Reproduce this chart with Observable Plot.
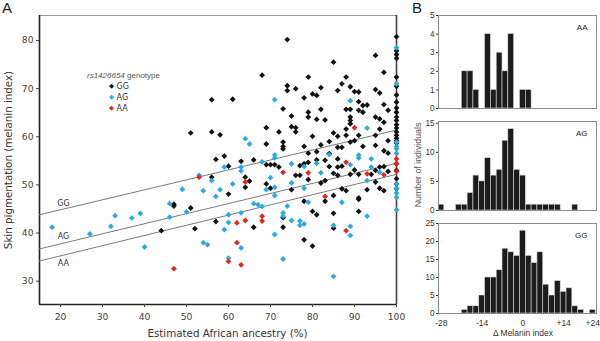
<!DOCTYPE html>
<html>
<head>
<meta charset="utf-8">
<script src="https://cdn.jsdelivr.net/npm/d3@7"></script>
<script src="https://cdn.jsdelivr.net/npm/@observablehq/plot@0.6"></script>
<style>
  html, body { margin: 0; padding: 0; background: #fff; }
  #root { position: relative; width: 600px; height: 341px; overflow: hidden; background: #fff; }
  .abs { position: absolute; }
  .t { position: absolute; white-space: nowrap; line-height: 1; }
</style>
</head>
<body>
<div id="root">
  <div id="panelA" class="abs" style="left:0;top:0"></div>
  <div id="histAA" class="abs" style="left:420px;top:0"></div>
  <div id="histAG" class="abs" style="left:420px;top:112px"></div>
  <div id="histGG" class="abs" style="left:420px;top:216px"></div>
</div>
<script>
// ---------------- data ----------------
// Panel A: [estimated African ancestry %, melanin index]
const gg = [
[44,40.5],[47,46.0],[47,45.6],[51,45.2],[51,60.8],[52,40.9],[56,67.7],[56,61.0],[56,51.6],[57,55.3],[57,42.4],[58,60.4],[59,56.0],[60,53.9],[60,48.1],[61,67.8],[63,54.9],[64,51.6],[64,49.5],[65,50.8],[66,55.2],[66,41.2],[68,72.8],[69,61.9],[69,58.5],[69,50.2],[69,54.2],[70,54.2],[70,49.3],[71,54.2],[72,61.0],[72,53.7],[73,65.8],[73,58.9],[73,58.0],[73,57.5],[73,43.2],[73,41.2],[74,80.2],[74,70.6],[74,69.6],[75,64.3],[75,62.1],[75,49.0],[76,70.0],[76,61.9],[76,61.0],[76,52.0],[77,52.0],[77,54.0],[78,68.1],[78,58.0],[78,54.4],[78,46.6],[78,38.6],[79,72.4],[79,65.1],[79,64.1],[79,56.6],[79,54.7],[79,51.1],[80,68.9],[80,60.1],[80,44.5],[80,37.3],[81,68.6],[81,63.6],[81,56.9],[81,55.2],[81,43.8],[82,70.2],[82,65.7],[82,58.3],[82,50.4],[83,63.5],[83,55.1],[83,50.9],[83,46.6],[84,59.0],[84,56.5],[84,53.8],[85,75.5],[85,60.8],[85,52.4],[85,47.8],[85,44.1],[85,41.0],[86,69.6],[86,60.1],[86,57.8],[86,55.4],[86,53.7],[86,52.0],[87,71.0],[87,57.8],[87,53.9],[87,49.2],[88,72.4],[88,65.7],[88,61.6],[88,60.3],[88,48.8],[89,70.4],[89,65.7],[89,64.1],[89,63.4],[89,62.7],[89,58.9],[89,52.2],[90,69.4],[90,59.2],[90,53.1],[91,69.3],[91,67.3],[91,65.5],[91,60.3],[91,52.2],[91,47.3],[91,47.0],[91,44.5],[92,66.5],[92,65.1],[92,58.0],[93,66.6],[93,49.0],[94,52.2],[95,76.9],[95,69.8],[95,64.1],[95,60.3],[95,58.2],[95,53.0],[95,50.6],[96,69.1],[96,63.7],[96,61.6],[96,53.7],[96,49.3],[97,73.4],[97,66.7],[97,63.0],[97,57.1],[97,53.8],[97,48.8],[98,65.5],[98,59.2],[98,56.6],[98,52.8],
[100,80.8],[100,77.9],[100,77.1],[100,76.3],[100,72.4],[100,70.5],[100,68.7],[100,67.2],[100,66.0],[100,65.1],[100,64.1],[100,63.4],[100,62.5],[100,61.8],[100,61.0],[100,60.3],[100,59.7],[100,59.2],[100,58.7],[100,54.4],[100,53.0],[100,51.3],[100,50.2],[100,49.2]
];
const ag = [
[18,41.2],[27,39.8],[32,41.4],[33,43.6],[37,43.1],[39,44.1],[40,37.1],[46,46.1],[46,43.3],[49,49.1],[50,44.4],[53,52.0],[54,48.8],[54,38.0],[55,37.6],[56,50.9],[57,47.6],[58,49.0],[59,53.7],[59,40.7],[60,43.8],[60,42.2],[60,34.8],[61,50.2],[63,53.7],[63,52.9],[63,44.2],[63,36.9],[64,59.6],[65,58.5],[66,46.1],[67,45.9],[68,45.5],[68,54.8],[69,49.0],[70,51.5],[71,67.7],[71,56.2],[71,55.6],[71,49.5],[71,47.8],[71,39.7],[73,44.2],[73,43.5],[73,34.6],[74,45.6],[75,54.4],[75,50.4],[75,42.6],[77,42.5],[77,41.6],[78,41.9],[78,49.3],[78,53.8],[79,46.4],[81,54.5],[82,52.5],[84,56.3],[85,41.6],[85,31.0],[87,46.4],[89,67.5],[89,54.2],[89,41.4],[89,39.5],[91,56.2],[91,55.6],[93,61.8],[93,50.9],[93,43.5],[94,55.4],[94,53.7],[96,52.6],
[100,78.5],[100,71.0],[100,58.9],[100,58.0],[100,57.5],[100,56.5],[100,50.2],[100,49.2],[100,48.3],[100,47.4],[100,44.8]
];
const aa = [
[47,32.6],[53,51.6],[60,34.1],[62,42.1],[62,38.0],[63,33.4],[64,50.6],[64,42.6],[68,43.5],[68,42.5],[73,52.6],[79,52.5],[83,47.6],[88,54.7],[88,40.5],[90,61.9],[93,52.3],[97,52.1],[100,55.4],[100,54.4],[100,52.8]
];
// fitted lines (endpoints)
const lineGG = [[15,43.8],[100,61.4]];
const lineAG = [[15,36.7],[100,54.5]];
const lineAA = [[15,34.2],[100,52.2]];
const lineNames = ["GG","AG","AA"];
const xDomainA = [15, 100];
const yDomainA = [25.15, 85.2];
const xTicksA = [20,30,40,50,60,70,80,90,100];
const yTicksA = [30,40,50,60,70,80];
const genotypes = ["GG","AG","AA"];
const colors = ["#111111","#29abe2","#e8241f"];

// Panel B: histogram counts, bins of width 2 starting at -29
const binStart = -29;
const binWidth = 2;
const countsAA = [0,0,0,0,2,2,1,0,4,1,3,2,4,0,1,1,0,0,0,0,0,0,0,0,0,0,0];
const countsAG = [1,0,0,1,1,3,6,5,9,6,7,12,14,7,6,1,1,1,1,1,1,0,0,1,0,0,0];
const countsGG = [0,0,0,0,1,2,2,5,10,10,12,18,17,16,23,16,14,17,8,5,9,6,7,2,1,0,1];
const histDomain = [-29, 25.3];
const histXTicks = [-28,-14,0,14,24];
const yTicksAA = [0,1,2,3,4,5];
const yTicksAG = [0,5,10,15];
const yTicksGG = [0,5,10,15,20,25];

// ---------------- drawing ----------------
const diamond = {
  draw(context, size) {
    const h = Math.sqrt(size / Math.PI) * 1.45;
    context.moveTo(0, -h); context.lineTo(h, 0); context.lineTo(0, h); context.lineTo(-h, 0); context.closePath();
  }
};
const fontA = "'DejaVu Sans', Verdana, sans-serif";
const fontB = "'Liberation Sans', Arial, sans-serif";

const lines = [lineGG, lineAG, lineAA];
const labelDy = [-5.5, -6.5, 8];
const labelData = lines.map((l, i) => {
  const xv = l[0][0] + 5.7;
  const t = (xv - l[0][0]) / (l[1][0] - l[0][0]);
  return {name: lineNames[i], x: xv, y: l[0][1] + t * (l[1][1] - l[0][1]), dy: labelDy[i]};
});

const panelA = Plot.plot({
  width: 420, height: 341,
  marginLeft: 39, marginRight: 24, marginTop: 15, marginBottom: 37,
  style: {fontFamily: fontA, fontSize: "9px", color: "#444", background: "transparent", overflow: "visible"},
  x: {domain: xDomainA},
  y: {domain: yDomainA},
  marks: [
    Plot.frame({stroke: "#999", strokeWidth: 1}),
    Plot.ruleX([xDomainA[0]], {stroke: "#222", strokeWidth: 1.6}),
    Plot.ruleY([yDomainA[0]], {stroke: "#222", strokeWidth: 1.6}),
    Plot.ruleX([xDomainA[1]], {stroke: "#444", strokeWidth: 1.6}),
    ...lines.map(l => Plot.line(l, {x: d => d[0], y: d => d[1], stroke: "#7a7a7a", strokeWidth: 1})),
    ...labelData.map(d => Plot.text([d], {x: "x", y: "y", text: "name", dy: d.dy, fontSize: 8, fill: "#333"})),
    Plot.dot(gg, {x: d => d[0], y: d => d[1], symbol: diamond, r: 2, fill: colors[0], stroke: "none"}),
    Plot.dot(ag, {x: d => d[0], y: d => d[1], symbol: diamond, r: 2, fill: colors[1], stroke: "none"}),
    Plot.dot(aa, {x: d => d[0], y: d => d[1], symbol: diamond, r: 2, fill: colors[2], stroke: "none"}),
    Plot.axisX({ticks: xTicksA, tickSize: 3, tickPadding: 6, label: null, fontSize: 9.2, tickFormat: d => String(d)}),
    Plot.axisY({ticks: yTicksA, tickSize: 3, tickPadding: 3, label: null, fontSize: 9.2, tickFormat: d => String(d)})
  ]
});
document.getElementById("panelA").appendChild(panelA);

function signed(d) { return d > 0 ? "+" + d : d < 0 ? "-" + (-d) : "0"; }

function hist(counts, name, yMax, yTicks, height, mt, mb, showX) {
  const data = counts.map((c, i) => ({x1: binStart + i * binWidth, x2: binStart + (i + 1) * binWidth, c})).filter(d => d.c > 0);
  return Plot.plot({
    width: 180, height,
    marginLeft: 18, marginRight: 4, marginTop: mt, marginBottom: mb,
    style: {fontFamily: fontB, fontSize: "8px", color: "#333", background: "transparent", overflow: "visible"},
    x: {domain: histDomain},
    y: {domain: [0, yMax]},
    marks: [
      Plot.rectY(data, {x1: "x1", x2: "x2", y: "c", fill: "#1c1c1c", stroke: "#d8d8d8", strokeWidth: 0.6}),
      Plot.frame({stroke: "#8a8a8a", strokeWidth: 1}),
      Plot.text([name], {frameAnchor: "top-right", dx: -9, dy: 9, fontSize: 8, fontFamily: fontB, fill: "#222"}),
      Plot.axisY({ticks: yTicks, tickSize: 2, tickPadding: 2, label: null, fontSize: 8.2, tickFormat: d => String(d)}),
      showX ? Plot.axisX({ticks: histXTicks, tickSize: 0, tickPadding: 6, label: null, fontSize: 8.5, tickFormat: signed}) : Plot.axisX({ticks: []})
    ]
  });
}
document.getElementById("histAA").appendChild(hist(countsAA, "AA", 5, yTicksAA, 112, 15, 4, false));
document.getElementById("histAG").appendChild(hist(countsAG, "AG", 15.3, yTicksAG, 104, 9, 6, false));
document.getElementById("histGG").appendChild(hist(countsGG, "GG", 25, yTicksGG, 125, 7, 28, true));

// ---------------- titles, labels, legend (HTML text) ----------------
const root = document.getElementById("root");
function addText(txt, css) {
  const el = document.createElement("div");
  el.className = "t";
  el.innerHTML = txt;
  Object.assign(el.style, css);
  root.appendChild(el);
  return el;
}
addText("A", {left: "2px", top: "0px", fontFamily: fontB, fontSize: "15px", color: "#222"});
addText("B", {left: "412px", top: "0px", fontFamily: fontB, fontSize: "15px", color: "#222"});
addText("Skin pigmentation (melanin index)", {left: "8px", top: "160px", fontFamily: fontA, fontSize: "10.3px", color: "#333", transform: "translate(-50%,-50%) rotate(-90deg)"});
addText("Estimated African ancestry (%)", {left: "227.5px", top: "333px", fontFamily: fontA, fontSize: "10.3px", color: "#333", transform: "translate(-50%,-50%)"});
addText("Number of individuals", {left: "418px", top: "165px", fontFamily: fontB, fontSize: "8.8px", color: "#555", transform: "translate(-50%,-50%) rotate(-90deg)"});
addText("&Delta; Melanin index", {left: "523px", top: "333px", fontFamily: fontB, fontSize: "8.5px", color: "#333", transform: "translate(-50%,-50%)"});
// legend
addText("<i>rs1426654</i> genotype", {left: "87px", top: "72px", fontFamily: fontB, fontSize: "8px", color: "#555"});
genotypes.forEach((g, i) => {
  addText(`<span style="color:${colors[i]};font-size:6.5px;vertical-align:1px">&#9670;</span> ${g}`,
    {left: "109px", top: (82.5 + i * 11.3) + "px", fontFamily: fontA, fontSize: "8px", color: "#333"});
});
</script>
</body>
</html>
